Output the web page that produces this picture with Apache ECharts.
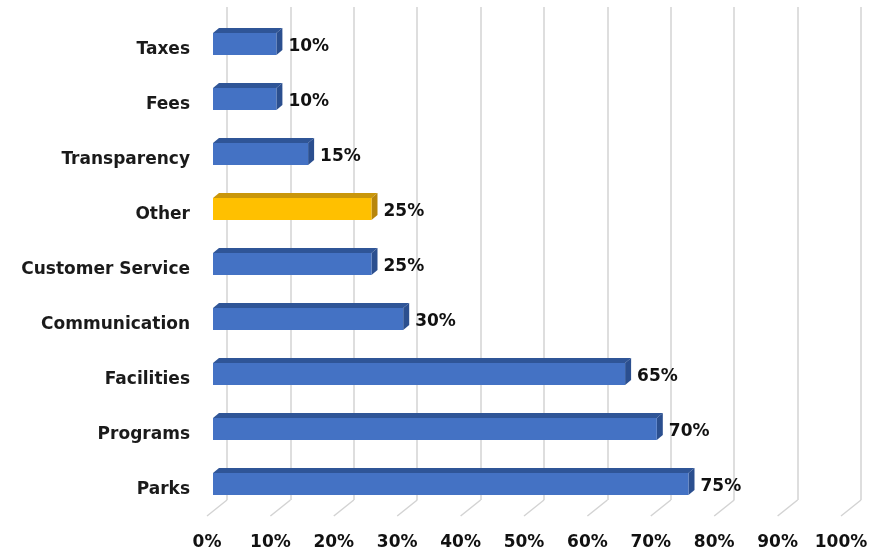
<!DOCTYPE html>
<html><head><meta charset="utf-8">
<script src="https://cdn.jsdelivr.net/npm/echarts@6/dist/echarts.min.js"></script>
<style>html,body{margin:0;padding:0;background:#fff}#c{width:871px;height:552px}</style>
</head><body><div id="c"></div>
<script>
var categories = ['Parks','Programs','Facilities','Communication','Customer Service','Other','Transparency','Fees','Taxes'];
var values = [75,70,65,30,25,25,15,10,10];
var highlight = 'Other';
var ticks = [0,10,20,30,40,50,60,70,80,90,100];

var chart = echarts.init(document.getElementById('c'), null, {renderer:'canvas'});
var FONT = '"DejaVu Sans", sans-serif';

function barItem(params, api){
  var v = api.value(0), ci = api.value(1);
  var p0 = api.coord([0, ci]), p1 = api.coord([v, ci]);
  var c = p0[1];
  var yt = c - 17, yb = c + 5, x0 = p0[0], x1 = p1[0];
  var dx = 6, dy = 5;
  var isHi = categories[ci] === highlight;
  var front = isHi ? '#FFC000' : '#4472C4';
  var top = isHi ? '#C9960A' : '#2F5597';
  var side = isHi ? '#B8860B' : '#2B4F8F';
  return {type:'group', children:[
    {type:'polygon', shape:{points:[[x0,yt],[x0+dx,yt-dy],[x1+dx,yt-dy],[x1,yt]]}, style:{fill:top}},
    {type:'polygon', shape:{points:[[x1,yt],[x1+dx,yt-dy],[x1+dx,yb-dy],[x1,yb]]}, style:{fill:side}},
    {type:'rect', shape:{x:x0, y:yt, width:x1-x0, height:yb-yt}, style:{fill:front}},
    {type:'text', style:{text: v + '%', x: x1+dx+6, y: (yt+yb)/2+3, textVerticalAlign:'middle', textAlign:'left',
      font:'bold 17px ' + FONT, fill:'#111111'}}
  ]};
}

function floorItem(params, api){
  var v = api.value(0);
  var p = api.coord([v, 0]);
  var gy = params.coordSys.y + params.coordSys.height;
  return {type:'line', shape:{x1:p[0], y1:gy, x2:p[0]-20, y2:gy+16}, style:{stroke:'#d3d3d3', lineWidth:1.5}};
}

chart.setOption({
  animation:false,
  grid:[
    {left:227, width:634, top:7, bottom:52},
    {left:213, width:634, top:22.5, height:495},
    {left:207, width:634, top:20, bottom:35}
  ],
  xAxis:[
    {gridIndex:0, type:'value', min:0, max:100, interval:10, axisLabel:{show:false}, axisLine:{show:false}, axisTick:{show:false},
     splitLine:{show:true, lineStyle:{color:'#d3d3d3', width:1.5}}},
    {gridIndex:1, type:'value', min:0, max:100, interval:10, axisLabel:{show:false}, axisLine:{show:false}, axisTick:{show:false}, splitLine:{show:false}},
    {gridIndex:2, type:'value', min:0, max:100, interval:10, axisLine:{show:false}, axisTick:{show:false}, splitLine:{show:false},
     axisLabel:{margin:17, fontSize:17, fontWeight:'bold', fontFamily:FONT, color:'#111111', formatter:'{value}%'}}
  ],
  yAxis:[
    {gridIndex:0, type:'category', data:categories, show:false},
    {gridIndex:1, type:'category', data:categories, axisLine:{show:false}, axisTick:{show:false},
     axisLabel:{margin:23, fontSize:17, fontWeight:'bold', fontFamily:FONT, color:'#1a1a1a'}},
    {gridIndex:2, type:'category', data:categories, show:false}
  ],
  series:[
    {type:'custom', xAxisIndex:0, yAxisIndex:0, renderItem:floorItem, data:ticks.map(function(t){return [t,0];}), encode:{x:0,y:1}, silent:true},
    {type:'custom', xAxisIndex:1, yAxisIndex:1, renderItem:barItem, data:values.map(function(v,i){return [v,i];}), encode:{x:0,y:1}, z:5}
  ]
});
</script></body></html>
